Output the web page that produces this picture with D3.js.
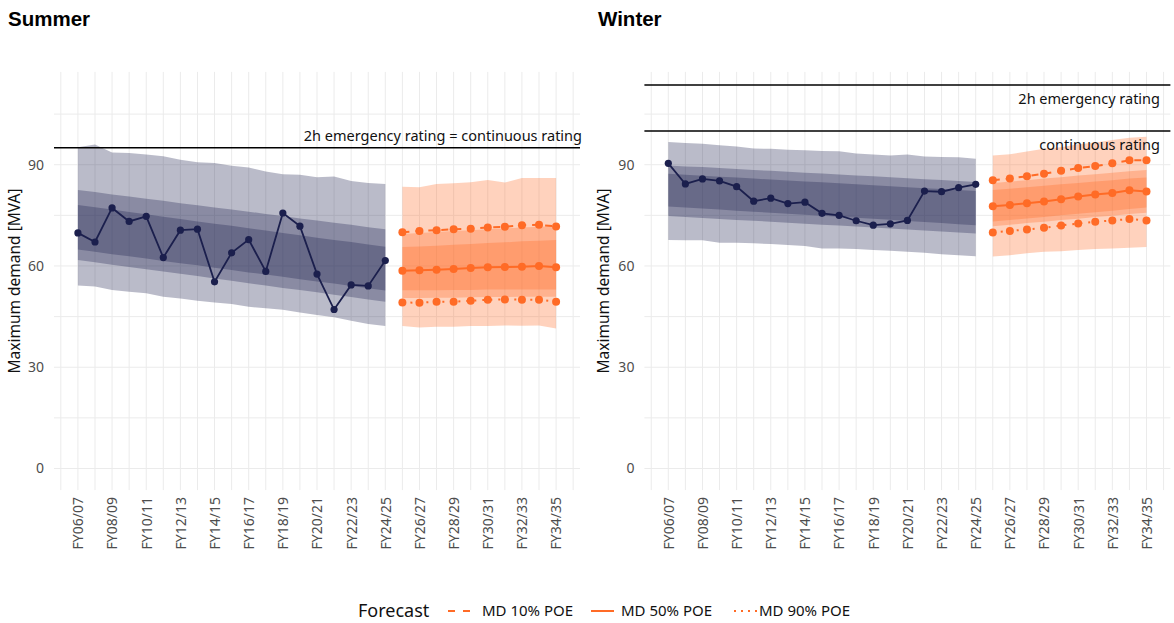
<!DOCTYPE html>
<html><head><meta charset="utf-8">
<script src="https://cdn.jsdelivr.net/npm/d3@7"></script>
<style>
body{margin:0;background:#fff;}
svg{display:block;font-family:"Noto Sans","Open Sans",sans-serif;}
</style></head>
<body><svg id="chart" width="1174" height="623"></svg>
<script>
const years = ["FY06/07","FY07/08","FY08/09","FY09/10","FY10/11","FY11/12","FY12/13","FY13/14","FY14/15","FY15/16","FY16/17","FY17/18","FY18/19","FY19/20","FY20/21","FY21/22","FY22/23","FY23/24","FY24/25","FY25/26","FY26/27","FY27/28","FY28/29","FY29/30","FY30/31","FY31/32","FY32/33","FY33/34","FY34/35"];
const tickLabels = ["FY06/07","FY08/09","FY10/11","FY12/13","FY14/15","FY16/17","FY18/19","FY20/21","FY22/23","FY24/25","FY26/27","FY28/29","FY30/31","FY32/33","FY34/35"];
const yTicks = [0,30,60,90];
const histYears = years.slice(0,19);
const fcYears = years.slice(19);

// Summer historical
const summerActual = [69.8,67.1,77.2,73.2,74.7,62.5,70.6,70.9,55.3,63.9,67.8,58.4,75.7,71.8,57.6,47.1,54.4,54.1,61.6];
const summerOuterHi = [95.2,96.0,93.6,93.5,93.0,92.5,91.5,90.7,90.5,89.7,89.2,88.0,87.2,87.0,86.3,86.5,85.2,84.6,84.3];
const summerOuterLo = [54.2,53.9,52.9,52.4,51.9,50.9,50.4,49.7,49.2,48.7,47.9,47.5,47.0,46.2,45.5,44.8,43.8,42.8,42.2];
const summerMidHi = [82.5,81.9,81.2,80.6,79.9,79.3,78.6,78.0,77.3,76.7,76.1,75.4,74.8,74.1,73.5,72.8,72.2,71.5,70.9];
const summerMidLo = [61.8,61.1,60.4,59.7,59.0,58.4,57.7,57.0,56.3,55.6,54.9,54.2,53.5,52.9,52.2,51.5,50.8,50.1,49.4];
const summerInHi = [78.1,77.4,76.7,76.0,75.3,74.6,73.9,73.2,72.5,71.9,71.2,70.5,69.8,69.1,68.4,67.7,67.1,66.4,65.7];
const summerInLo = [64.9,64.2,63.5,62.9,62.2,61.5,60.8,60.2,59.5,58.8,58.1,57.5,56.8,56.1,55.4,54.8,54.1,53.4,52.7];
// Summer forecast
const summerP10 = [70.0,70.4,70.6,70.9,71.0,71.4,71.6,72.1,72.2,71.7];
const summerP50 = [58.6,58.7,58.9,59.1,59.4,59.6,59.7,59.8,60.0,59.6];
const summerP90 = [49.2,49.1,49.4,49.4,49.7,50.0,50.1,50.0,50.0,49.4];
const summerFcOuterHi = [83.5,83.3,84.3,84.5,84.8,85.5,84.7,86.1,86.1,86.1];
const summerFcOuterLo = [42.2,41.8,42.0,42.0,42.2,42.2,42.4,42.3,42.4,41.5];
const summerFcMidHi = [69.5,69.8,70.1,70.4,70.6,70.9,71.1,71.4,71.6,71.8];
const summerFcMidLo = [50.5,50.5,50.6,50.6,50.7,50.8,50.8,50.9,50.9,50.9];
const summerFcInHi = [65.6,65.8,66.0,66.3,66.5,66.8,67.0,67.3,67.5,67.7];
const summerFcInLo = [52.8,52.8,52.8,52.9,52.9,53.0,53.0,53.0,53.0,53.0];

// Winter historical
const winterActual = [90.4,84.3,85.8,85.2,83.5,79.2,80.1,78.5,78.9,75.6,75.0,73.4,72.1,72.5,73.5,82.2,82.0,83.2,84.2];
const winterOuterHi = [96.7,96.4,96.2,95.8,95.4,94.8,94.7,94.4,94.3,94.1,94.0,93.3,93.0,92.7,93.0,92.4,92.3,92.2,91.8];
const winterOuterLo = [67.7,67.6,67.6,66.9,66.9,66.7,66.5,66.2,65.9,65.2,65.2,65.0,64.7,64.5,64.2,63.9,63.5,63.2,62.9];
const winterMidHi = [89.8,89.5,89.3,89.0,88.7,88.4,88.2,87.9,87.6,87.4,87.1,86.8,86.6,86.3,86.0,85.7,85.5,85.2,84.9];
const winterMidLo = [74.8,74.5,74.2,73.9,73.6,73.4,73.1,72.8,72.5,72.2,72.0,71.7,71.4,71.1,70.8,70.5,70.2,69.9,69.6];
const winterInHi = [87.3,87.0,86.7,86.4,86.2,85.9,85.6,85.3,85.0,84.8,84.5,84.2,83.9,83.6,83.3,83.0,82.8,82.5,82.2];
const winterInLo = [77.6,77.3,77.0,76.7,76.4,76.1,75.8,75.5,75.2,74.9,74.6,74.3,74.0,73.7,73.3,73.0,72.7,72.4,72.1];
// Winter forecast
const winterP10 = [85.4,85.9,86.6,87.3,88.2,89.0,89.6,90.4,91.3,91.3];
const winterP50 = [77.7,78.1,78.6,79.1,79.8,80.6,81.2,81.6,82.4,82.1];
const winterP90 = [69.9,70.4,70.8,71.3,72.0,72.6,73.1,73.5,73.9,73.5];
const winterFcOuterHi = [92.7,93.1,93.9,94.7,95.2,96.1,96.6,97.3,98.0,98.3];
const winterFcOuterLo = [62.8,63.2,63.8,64.2,64.4,64.7,65.0,65.2,65.4,65.6];
const winterFcMidHi = [84.5,85.0,85.4,85.9,86.3,86.8,87.2,87.6,88.1,88.4];
const winterFcMidLo = [71.8,72.2,72.7,73.1,73.6,74.0,74.5,74.9,75.4,75.8];
const winterFcInHi = [82.5,82.9,83.3,83.8,84.2,84.6,85.0,85.4,85.9,86.2];
const winterFcInLo = [73.2,73.6,74.1,74.5,75.0,75.5,75.9,76.4,76.9,77.3];

// Ratings
const summerRatings = [95];
const summerRatingLabels = ["2h emergency rating = continuous rating"];
const winterRatings = [113.6, 100];
const winterRatingLabels = ["2h emergency rating", "continuous rating"];

const legendLabels = ["MD 10% POE","MD 50% POE","MD 90% POE"];

const NAVY = "#1b1f4d", ORANGE = "#ff6b26", GRID = "#ebebeb", TXT = "#4d4d4d";
const svg = d3.select("#chart");

const y = d3.scaleLinear().domain([-6.4, 117.5]).range([490.1, 71.9]);

function panel(opts) {
  const x = d3.scaleLinear().domain([-1.4, 29.4]).range(opts.xr);
  const idx = d => years.indexOf(d);
  const g = svg.append("g");
  const [x0, x1] = opts.xr;
  // grid
  g.append("g").selectAll("line").data(d3.range(-1, 30)).join("line")
    .attr("x1", d => x(d)).attr("x2", d => x(d))
    .attr("y1", y.range()[1]).attr("y2", y.range()[0])
    .attr("stroke", GRID).attr("stroke-width", 1);
  g.append("g").selectAll("line").data(d3.range(0, 120, 15)).join("line")
    .attr("x1", x0).attr("x2", x1)
    .attr("y1", d => y(d)).attr("y2", d => y(d))
    .attr("stroke", GRID).attr("stroke-width", 1);

  // y axis
  const ya = g.append("g").attr("transform", `translate(${x0},0)`)
    .call(d3.axisLeft(y).tickValues(yTicks).tickSize(0).tickPadding(10));
  ya.select(".domain").remove();
  ya.selectAll("text").attr("fill", TXT).style("font-size", "14px").style("font-family", "'Noto Sans'");

  // x axis
  const xa = g.append("g").attr("transform", `translate(0,${y.range()[0]})`)
    .call(d3.axisBottom(x).tickValues(tickLabels.map(idx)).tickFormat(i => years[i]).tickSize(0).tickPadding(0));
  xa.select(".domain").remove();
  xa.selectAll("text").attr("fill", TXT).style("font-size", "14px").style("font-family", "'Noto Sans'")
    .attr("text-anchor", "end").attr("dy", "0.35em")
    .attr("transform", "translate(0,7) rotate(-90)").attr("x", 0).attr("y", 0);

  // historical bands
  const hist = histYears.map((d, i) => ({i: idx(d), i2: i}));
  const band = (hi, lo) => d3.area().x(d => x(d.i)).y0(d => y(lo[d.i2])).y1(d => y(hi[d.i2]));
  [[opts.hOH, opts.hOL],[opts.hMH, opts.hML],[opts.hIH, opts.hIL]].forEach(([hi, lo]) => {
    g.append("path").datum(hist).attr("d", band(hi, lo)).attr("fill", NAVY).attr("fill-opacity", 0.3);
  });
  g.append("path").datum(hist).attr("d", d3.line().x(d => x(d.i)).y(d => y(opts.act[d.i2])))
    .attr("fill", "none").attr("stroke", NAVY).attr("stroke-width", 1.8);
  g.append("g").selectAll("circle").data(hist).join("circle")
    .attr("cx", d => x(d.i)).attr("cy", d => y(opts.act[d.i2])).attr("r", 3.6).attr("fill", NAVY);

  // forecast bands
  const fc = fcYears.map((d, i) => ({i: idx(d), i2: i}));
  [[opts.fOH, opts.fOL],[opts.fMH, opts.fML],[opts.fIH, opts.fIL]].forEach(([hi, lo]) => {
    g.append("path").datum(fc).attr("d", band(hi, lo)).attr("fill", ORANGE).attr("fill-opacity", 0.3);
  });
  const dashes = ["7,6", null, "2,6"];
  [opts.p10, opts.p50, opts.p90].forEach((s, k) => {
    g.append("path").datum(fc).attr("d", d3.line().x(d => x(d.i)).y(d => y(s[d.i2])))
      .attr("fill", "none").attr("stroke", ORANGE).attr("stroke-width", 2)
      .attr("stroke-dasharray", dashes[k]);
    g.append("g").selectAll("circle").data(fc).join("circle")
      .attr("cx", d => x(d.i)).attr("cy", d => y(s[d.i2])).attr("r", 4).attr("fill", ORANGE);
  });

  // ratings
  opts.ratings.forEach((r, k) => {
    g.append("line").attr("x1", x0).attr("x2", x1).attr("y1", y(r)).attr("y2", y(r))
      .attr("stroke", "#000").attr("stroke-width", 1.5);
    g.append("text").attr("x", opts.labelX).attr("y", y(r) + opts.labelDy[k])
      .attr("text-anchor", "end").style("font-size", "14.5px").attr("fill", "#111")
      .text(opts.ratingLabels[k]);
  });

  // axis title
  g.append("text").attr("transform", `translate(${opts.titleX},${(y.range()[0] + y.range()[1]) / 2}) rotate(-90)`)
    .attr("text-anchor", "middle").style("font-size", "15.5px").attr("fill", "#111")
    .text("Maximum demand [MVA]");
  // panel title
  g.append("text").attr("x", opts.headX).attr("y", 26).style("font-family", "'Liberation Sans',Arial,sans-serif")
    .style("font-weight", "bold").style("font-size", "20.5px").attr("fill", "#000").text(opts.title);
}

panel({xr: [54, 580], title: "Summer", headX: 8, titleX: 20, labelX: 582, labelDy: [-7],
  act: summerActual, hOH: summerOuterHi, hOL: summerOuterLo, hMH: summerMidHi, hML: summerMidLo, hIH: summerInHi, hIL: summerInLo,
  p10: summerP10, p50: summerP50, p90: summerP90,
  fOH: summerFcOuterHi, fOL: summerFcOuterLo, fMH: summerFcMidHi, fML: summerFcMidLo, fIH: summerFcInHi, fIL: summerFcInLo,
  ratings: summerRatings, ratingLabels: summerRatingLabels});
panel({xr: [644.4, 1170.4], title: "Winter", headX: 598, titleX: 609, labelX: 1160, labelDy: [19, 19],
  act: winterActual, hOH: winterOuterHi, hOL: winterOuterLo, hMH: winterMidHi, hML: winterMidLo, hIH: winterInHi, hIL: winterInLo,
  p10: winterP10, p50: winterP50, p90: winterP90,
  fOH: winterFcOuterHi, fOL: winterFcOuterLo, fMH: winterFcMidHi, fML: winterFcMidLo, fIH: winterFcInHi, fIL: winterFcInLo,
  ratings: winterRatings, ratingLabels: winterRatingLabels});

// legend
const lg = svg.append("g").attr("transform", "translate(0,611)");
lg.append("text").attr("x", 358).attr("y", 0).attr("dy", "0.35em").style("font-size", "18px").attr("fill", "#111").text("Forecast");
const keyX = [448, 591, 734];
const keyDash = ["7,8", null, "2,5"];
legendLabels.forEach((lab, k) => {
  lg.append("line").attr("x1", keyX[k]).attr("x2", keyX[k] + 23).attr("y1", 0).attr("y2", 0)
    .attr("stroke", ORANGE).attr("stroke-width", 2).attr("stroke-dasharray", keyDash[k]);
  lg.append("text").attr("x", [482, 621, 759][k]).attr("y", 0).attr("dy", "0.35em")
    .style("font-size", "15px").attr("fill", "#111").text(lab);
});
</script></body></html>
